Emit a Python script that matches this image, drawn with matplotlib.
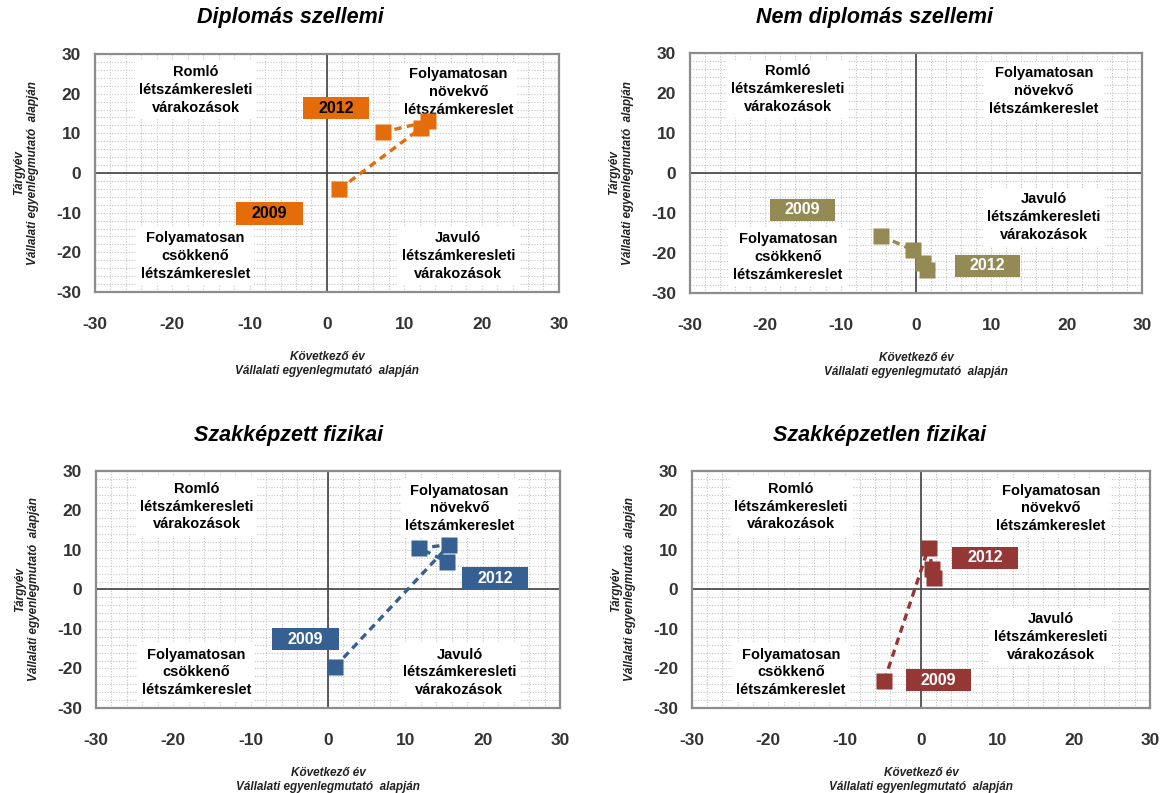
import numpy as np
import matplotlib.pyplot as plt
from matplotlib.patches import Rectangle

plt.rcParams['font.family'] = ['Liberation Sans', 'DejaVu Sans']
plt.rcParams['axes.unicode_minus'] = False

# panel titles and colours
titles = ['Diplomás szellemi', 'Nem diplomás szellemi',
          'Szakképzett fizikai', 'Szakképzetlen fizikai']
colors = ['#E46C0A', '#948A54', '#376092', '#953735']
year_text = ['black', 'white', 'white', 'white']

# points 2009..2012 (következő év, tárgyév)
x_dip = [1.6, 12.2, 13.1, 7.2]
y_dip = [-4.1, 11.4, 13.0, 10.3]
x_nemdip = [-4.6, -0.4, 1.0, 1.5]
y_nemdip = [-15.7, -19.3, -22.5, -24.2]
x_szak = [0.9, 15.7, 11.8, 15.4]
y_szak = [-19.6, 11.3, 10.5, 7.0]
x_szakn = [-4.8, 1.0, 1.7, 1.5]
y_szakn = [-23.1, 10.6, 2.9, 5.2]
xs = [x_dip, x_nemdip, x_szak, x_szakn]
ys = [y_dip, y_nemdip, y_szak, y_szakn]

ticks = [-30, -20, -10, 0, 10, 20, 30]

# label box centres (2009, 2012)
lab09 = [(-7.4, -10.2), (-15.1, -9.2), (-2.9, -12.6), (2.3, -23.0)]
lab12 = [(1.2, 16.3), (9.5, -23.2), (21.6, 2.9), (8.4, 8.0)]

# quadrant text y positions
javulo_y = [-21, -11, -21, -12]
quad_txt = {
    'tl': (-17, 21, 'Romló\nlétszámkeresleti\nvárakozások'),
    'tr': (17, 20.5, 'Folyamatosan\nnövekvő\nlétszámkereslet'),
    'bl': (-17, -21, 'Folyamatosan\ncsökkenő\nlétszámkereslet'),
}

# axes rectangles in figure fraction
rects = [[0.0809, 0.6318, 0.3952, 0.3001],
         [0.5877, 0.6305, 0.3850, 0.3026],
         [0.0818, 0.1072, 0.3952, 0.2989],
         [0.5894, 0.1072, 0.3901, 0.2989]]
title_x = [290, 875, 289, 880]
title_y = [18, 18, 436, 436]

fig = plt.figure(figsize=(11.74, 7.93), dpi=100)

for i in range(4):
    ax = fig.add_axes(rects[i])
    ax.set_xlim(-30, 30)
    ax.set_ylim(-30, 30)
    ax.set_xticks(ticks)
    ax.set_yticks(ticks)
    ax.set_xticks(np.arange(-30, 31, 2), minor=True)
    ax.set_yticks(np.arange(-30, 31, 2), minor=True)
    ax.grid(which='both', color='#c4c4c4', ls=(0, (1, 1.5)), lw=0.8)
    ax.set_axisbelow(True)
    ax.tick_params(which='both', length=0)
    ax.tick_params(axis='x', pad=18, labelsize=12.5, labelcolor='#333333')
    ax.tick_params(axis='y', pad=10, labelsize=12.5, labelcolor='#333333')
    for lab in ax.get_xticklabels() + ax.get_yticklabels():
        lab.set_fontweight('bold')
    for sp in ax.spines.values():
        sp.set_color('#8c8c8c')
        sp.set_linewidth(1.6)
    ax.axhline(0, color='#404040', lw=1.2, zorder=1)
    ax.axvline(0, color='#404040', lw=1.2, zorder=1)

    # quadrant labels
    for key, (qx, qy, txt) in quad_txt.items():
        ax.text(qx, qy, txt, ha='center', va='center', fontsize=10.5,
                fontweight='bold', linespacing=1.35, zorder=2,
                bbox=dict(facecolor='white', edgecolor='none', pad=3))
    ax.text(17, javulo_y[i], 'Javuló\nlétszámkeresleti\nvárakozások',
            ha='center', va='center', fontsize=10.5, fontweight='bold',
            linespacing=1.35, zorder=2,
            bbox=dict(facecolor='white', edgecolor='none', pad=3))

    # path
    ax.plot(xs[i], ys[i], color=colors[i], ls=(0, (2.2, 1.6)), lw=2.4,
            zorder=3)
    ax.plot(xs[i], ys[i], ls='', marker='s', ms=11, color=colors[i],
            mec='none', zorder=4)

    # year boxes
    for (cx, cy), yr in [(lab09[i], '2009'), (lab12[i], '2012')]:
        ax.add_patch(Rectangle((cx - 4.3, cy - 2.8), 8.6, 5.6,
                               facecolor=colors[i], edgecolor='none',
                               zorder=5))
        ax.text(cx, cy, yr, ha='center', va='center', fontsize=11.5,
                fontweight='bold', color=year_text[i], zorder=6)

    ax.set_xlabel('Következő év\nVállalati egyenlegmutató  alapján',
                  fontsize=8.5, fontstyle='italic', fontweight='bold',
                  labelpad=14, linespacing=1.2, color='#222222')
    ax.set_ylabel('Tárgyév\nVállalati egyenlegmutató  alapján',
                  fontsize=8.5, fontstyle='italic', fontweight='bold',
                  labelpad=12, linespacing=1.2, color='#222222')

    fig.text(title_x[i] / 1174, 1 - title_y[i] / 793, titles[i],
             ha='center', va='center', fontsize=15.5, fontweight='bold',
             fontstyle='italic')

fig.savefig('out.png', dpi=100)
